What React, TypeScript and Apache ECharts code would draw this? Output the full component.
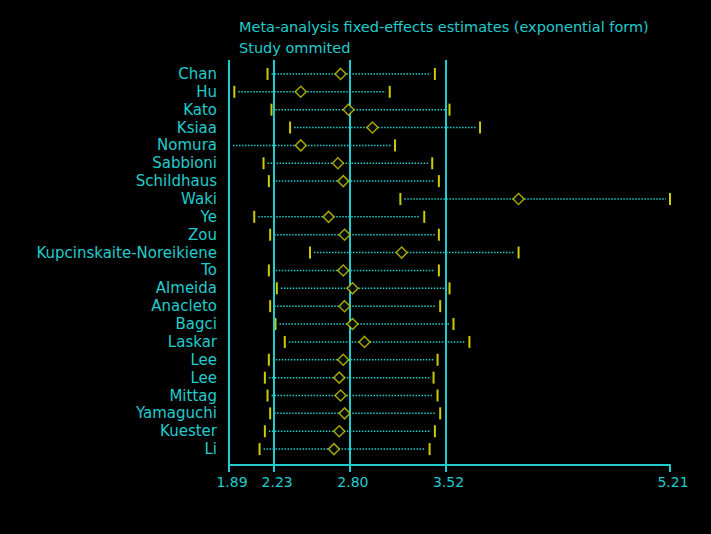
import React, { useEffect, useRef } from "react";
import * as echarts from "echarts";

const studies = [
  "Chan", "Hu", "Kato", "Ksiaa", "Nomura", "Sabbioni", "Schildhaus", "Waki", "Ye", "Zou",
  "Kupcinskaite-Noreikiene", "To", "Almeida", "Anacleto", "Bagci", "Laskar", "Lee", "Lee",
  "Mittag", "Yamaguchi", "Kuester", "Li",
];
const estimates = [
  2.73, 2.43, 2.79, 2.97, 2.43, 2.71, 2.75, 4.07, 2.64, 2.76, 3.19, 2.75, 2.82, 2.76, 2.82,
  2.91, 2.75, 2.72, 2.73, 2.76, 2.72, 2.68,
];
const lowerCI = [
  2.18, 1.93, 2.21, 2.35, 1.89, 2.15, 2.19, 3.18, 2.08, 2.2, 2.5, 2.19, 2.25, 2.2, 2.24,
  2.31, 2.19, 2.16, 2.18, 2.2, 2.16, 2.12,
];
const upperCI = [
  3.44, 3.1, 3.55, 3.78, 3.14, 3.42, 3.47, 5.21, 3.36, 3.47, 4.07, 3.47, 3.55, 3.48, 3.58,
  3.7, 3.46, 3.43, 3.46, 3.48, 3.44, 3.4,
];
const refLines = [1.89, 2.23, 2.8, 3.52];
const xTicks = [1.89, 2.23, 2.8, 3.52, 5.21];
const xTickLabels = ["1.89", "2.23", "2.80", "3.52", "5.21"];
const titleLines = ["Meta-analysis fixed-effects estimates (exponential form)", "Study ommited"];

const CYAN = "#22cccc";
const YELLOW = "#cccc00";

export default function App() {
  const ref = useRef<HTMLDivElement>(null);
  useEffect(() => {
    if (!ref.current) return;
    const chart = echarts.init(ref.current, null, { renderer: "svg" });
    const rows = studies.map((_, i) => i);
    chart.setOption({
      animation: false,
      backgroundColor: "#000000",
      title: {
        text: titleLines.join("\n"),
        left: 234,
        top: 11,
        textStyle: {
          color: CYAN,
          fontFamily: "DejaVu Sans",
          fontSize: 14.5,
          fontWeight: "normal",
          lineHeight: 21,
        },
      },
      grid: { left: 229, right: 41, top: 60, bottom: 69 },
      xAxis: {
        type: "value",
        position: "bottom",
        min: 1.89,
        max: 5.21,
        axisLine: { show: true, onZero: false, lineStyle: { color: CYAN, width: 2 } },
        axisTick: { show: true, customValues: xTicks, length: 7, lineStyle: { color: CYAN, width: 2 } },
        axisLabel: {
          customValues: xTicks,
          formatter: (v: number) => {
            const i = xTicks.findIndex((t) => Math.abs(t - v) < 1e-6);
            return i >= 0 ? xTickLabels[i] : "";
          },
          color: CYAN,
          fontFamily: "DejaVu Sans",
          fontSize: 14,
          margin: 10,
          padding: [0, 0, 0, 6],
        },
        splitLine: { show: false },
      },
      yAxis: {
        type: "value",
        inverse: true,
        min: -0.78,
        max: 21.89,
        axisLine: { show: false },
        axisTick: { show: false },
        splitLine: { show: false },
        axisLabel: {
          customValues: rows,
          formatter: (v: number) => studies[Math.round(v)] ?? "",
          color: CYAN,
          fontFamily: "DejaVu Sans",
          fontSize: 15,
          margin: 12,
        },
      },
      series: [
        {
          type: "custom",
          data: rows.map((i) => [lowerCI[i], upperCI[i], i]),
          renderItem: (params: any, api: any) => {
            const lo = api.value(0);
            const hi = api.value(1);
            const idx = api.value(2);
            const p1 = api.coord([lo, idx]);
            const p2 = api.coord([hi, idx]);
            return {
              type: "group",
              children: [
                {
                  type: "line",
                  shape: { x1: p1[0] + 4, y1: p1[1], x2: p2[0] - 4, y2: p2[1] },
                  style: { stroke: CYAN, lineWidth: 1.5, lineDash: [1.5, 1.5] },
                },
                {
                  type: "rect",
                  shape: { x: p1[0] - 1, y: p1[1] - 6, width: 2, height: 12 },
                  style: { fill: YELLOW },
                },
                {
                  type: "rect",
                  shape: { x: p2[0] - 1, y: p2[1] - 6, width: 2, height: 12 },
                  style: { fill: YELLOW },
                },
              ],
            };
          },
          markLine: {
            silent: true,
            symbol: "none",
            label: { show: false },
            lineStyle: { color: CYAN, width: 2, type: "solid" },
            data: refLines.map((v) => ({ xAxis: v })),
          },
          z: 2,
        },
        {
          type: "scatter",
          data: rows.map((i) => [estimates[i], i]),
          symbol: "diamond",
          symbolSize: [11, 11],
          itemStyle: { color: "#000000", borderColor: YELLOW, borderWidth: 1.5 },
          z: 5,
        },
      ],
    });
    return () => chart.dispose();
  }, []);
  return (
    <div
      ref={ref}
      style={{ position: "fixed", left: 0, top: 0, width: 711, height: 534, background: "#000" }}
    />
  );
}
